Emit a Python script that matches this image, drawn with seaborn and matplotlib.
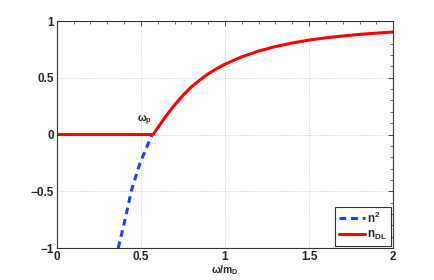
import matplotlib
matplotlib.use("Agg")
import matplotlib.pyplot as plt
import seaborn as sns
import pandas as pd
from matplotlib.ticker import MultipleLocator

# data
x_n2 = [0.365, 0.405, 0.444, 0.494, 0.53, 0.567]
y_n2 = [-1.0, -0.753, -0.489, -0.254, -0.125, 0.0]

x_dl = [0.0, 0.573, 0.6, 0.65, 0.70, 0.75, 0.80, 0.85, 0.90, 0.95, 1.0,
        1.1, 1.2, 1.3, 1.4, 1.5, 1.6, 1.7, 1.8, 1.9, 2.0]
y_dl = [0.0, 0.0, 0.06, 0.165, 0.26, 0.345, 0.42, 0.48, 0.535, 0.58, 0.62,
        0.685, 0.735, 0.775, 0.806, 0.832, 0.852, 0.868, 0.882, 0.893, 0.903]

xticks = [0, 0.5, 1, 1.5, 2]
xticklabels = ["0", "0.5", "1", "1.5", "2"]
yticks = [-1, -0.5, 0, 0.5, 1]
yticklabels = ["\u22121", "\u22120.5", "0", "0.5", "1"]

sns.set_style("white")
plt.rcParams['font.family'] = ['Liberation Sans', 'DejaVu Sans']
plt.rcParams['mathtext.fontset'] = 'custom'
plt.rcParams['mathtext.rm'] = 'Liberation Sans'
plt.rcParams['mathtext.bf'] = 'Liberation Sans:bold'

fig = plt.figure(figsize=(4.34, 2.80), dpi=100)
ax = fig.add_axes([0.131, 0.114, 0.775, 0.811])

df_n2 = pd.DataFrame({"x": x_n2, "y": y_n2})
df_dl = pd.DataFrame({"x": x_dl, "y": y_dl})

sns.lineplot(data=df_n2, x="x", y="y", ax=ax, color="#1f3fff", lw=2.2,
             linestyle=(0, (2.2, 1.6)), label="n$^\\mathbf{2}$", sort=False, estimator=None)
sns.lineplot(data=df_dl, x="x", y="y", ax=ax, color="#ff0000", lw=2.2,
             label="n$_{\\mathbf{DL}}$", sort=False, estimator=None)

ax.set_xlim(0, 2)
ax.set_ylim(-1, 1)
ax.set_xticks(xticks)
ax.set_xticklabels(xticklabels, fontweight="bold", fontsize=8.5)
ax.set_yticks(yticks)
ax.set_yticklabels(yticklabels, fontweight="bold", fontsize=8.5)
ax.xaxis.set_minor_locator(MultipleLocator(0.1))
ax.yaxis.set_minor_locator(MultipleLocator(0.1))
ax.tick_params(which="both", direction="in", top=True, right=True, color="#333333")
ax.tick_params(which="major", length=3.5, width=0.6, pad=2)
ax.tick_params(which="minor", length=2, width=0.5)
ax.grid(True, which="major", linestyle=(0, (1, 2)), color="#b8b8b8", linewidth=0.6)
for s in ax.spines.values():
    s.set_color("#333333")
    s.set_linewidth(0.8)

ax.set_xlabel("\u03c9/m$_\\mathbf{D}$", fontsize=7.5, fontweight="bold", labelpad=0)
ax.set_ylabel("")

ax.text(0.52, 0.06, "\u03c9$_\\mathbf{p}$", fontsize=7.5, fontweight="bold",
        ha="center", va="bottom")

leg = ax.legend(loc="lower right", frameon=True, fancybox=False, fontsize=8.5,
                handlelength=2.2, borderpad=0.3, labelspacing=0.3,
                handletextpad=0.2, borderaxespad=0.2)
leg.get_frame().set_edgecolor("black")
leg.get_frame().set_linewidth(0.8)
for t in leg.get_texts():
    t.set_fontweight("bold")

fig.savefig("out.png", dpi=100)
